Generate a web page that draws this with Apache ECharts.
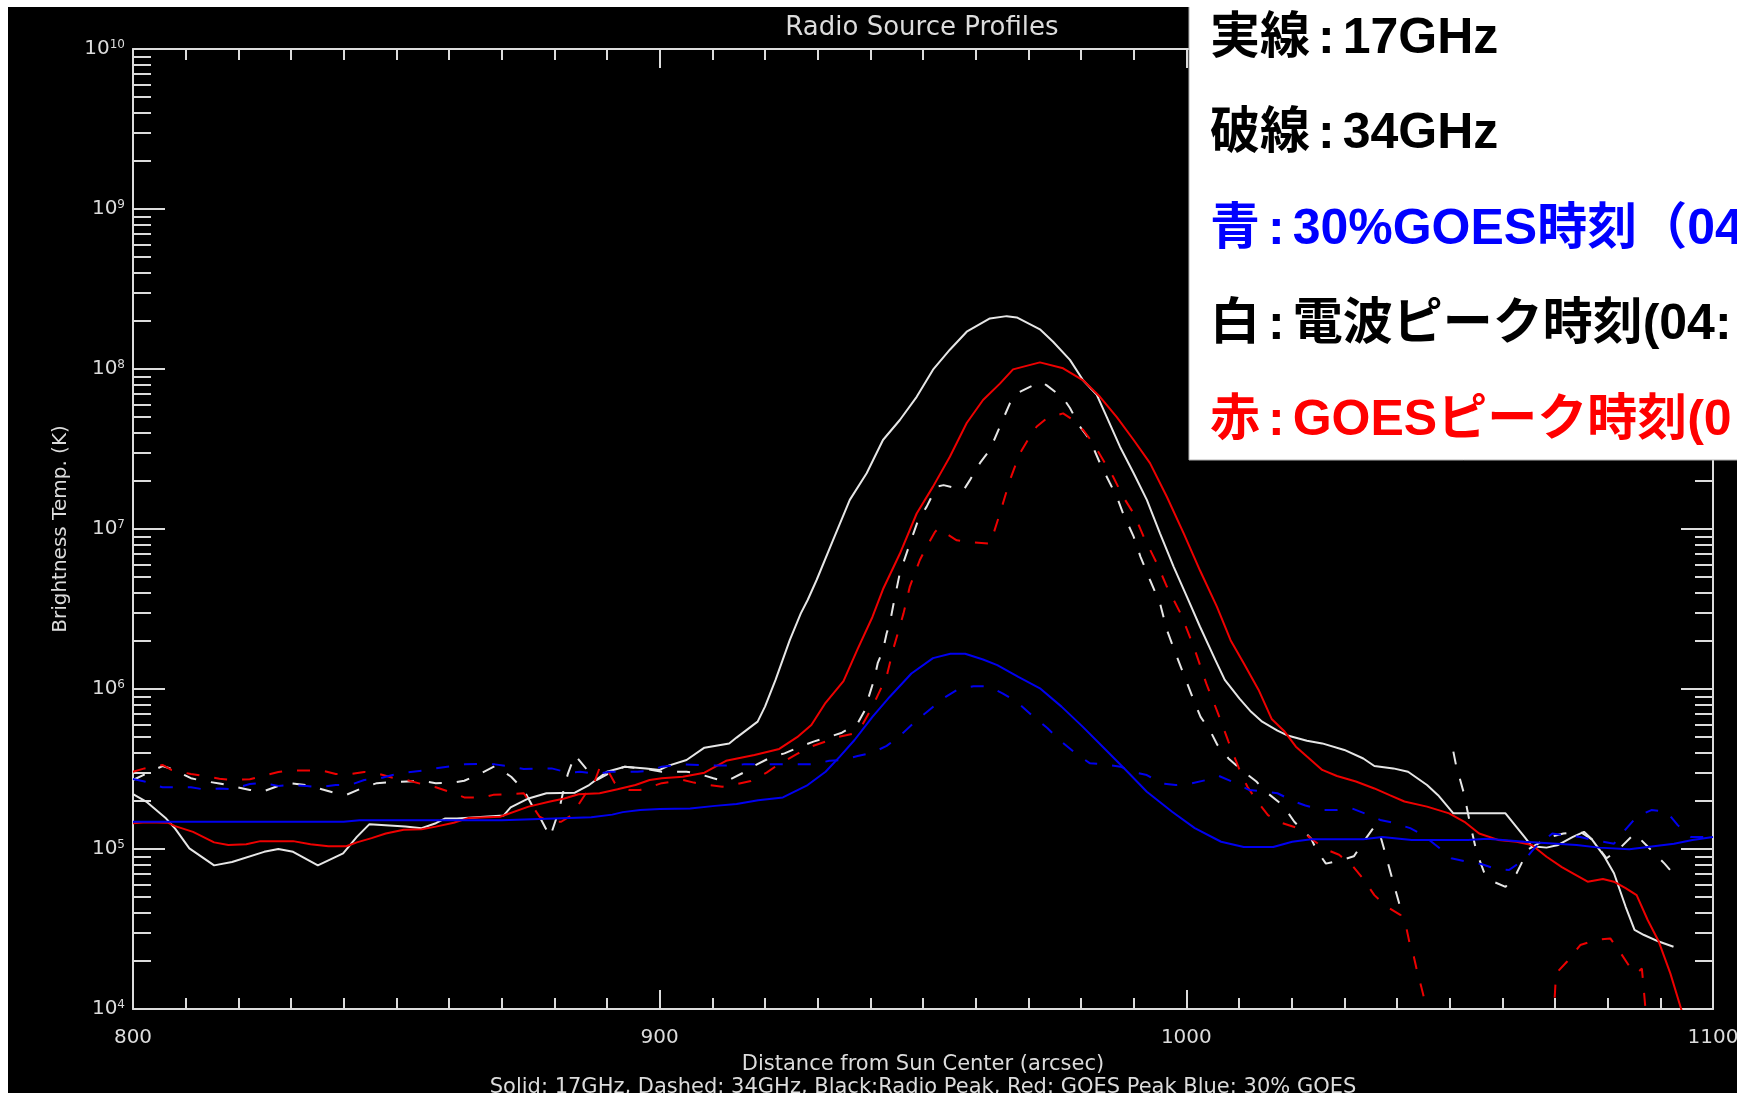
<!DOCTYPE html>
<html>
<head>
<meta charset="utf-8">
<script src="https://cdn.jsdelivr.net/npm/echarts@6/dist/echarts.min.js"></script>
<style>
  html, body { margin: 0; padding: 0; background: #fff; overflow: hidden; }
  #main { position: absolute; left: 8px; top: 7px; width: 1729px; height: 1086px; }
</style>
</head>
<body>
<div id="main"></div>
<script>
// distance from sun center (arcsec), brightness temperature (K)
// white = radio peak, red = GOES peak, blue = 30% GOES; 17GHz solid, 34GHz dashed
const radioPeak17 = [[800,2.2e5],[802.5,1.98e5],[806.3,1.55e5],[808,1.34e5],[810.7,1.01e5],[815.4,7.9e4],[818.8,8.3e4],[824.9,9.6e4],[827.6,1.0e5],[830.4,9.6e4],[835.1,7.9e4],[839.9,9.4e4],[842.5,1.19e5],[844.9,1.43e5],[851.7,1.38e5],[854.8,1.35e5],[857.5,1.45e5],[859.2,1.55e5],[861.5,1.55e5],[870.4,1.62e5],[871.7,1.82e5],[875.1,2.07e5],[878.5,2.23e5],[883.9,2.25e5],[886.6,2.51e5],[890,3.04e5],[893.4,3.27e5],[897.4,3.19e5],[900,3.12e5],[901.7,3.32e5],[905.1,3.6e5],[908.5,4.3e5],[913.2,4.57e5],[914.6,4.97e5],[918.6,6.25e5],[920,7.76e5],[922,1.14e6],[924.7,2.02e6],[926.8,2.97e6],[928.1,3.6e6],[929.8,4.8e6],[932.9,8.5e6],[936.1,1.52e7],[939.3,2.23e7],[942.4,3.6e7],[945.6,4.8e7],[948.8,6.7e7],[951.9,9.9e7],[955.1,1.32e8],[958.3,1.71e8],[962.7,2.07e8],[965.9,2.14e8],[967.8,2.1e8],[972.2,1.77e8],[974.7,1.48e8],[977.9,1.14e8],[980.4,8.5e7],[983,6.9e7],[984.9,5.0e7],[987.4,3.27e7],[990,2.23e7],[992.5,1.52e7],[995,9.4e6],[997.6,5.8e6],[1000.1,3.78e6],[1002.6,2.45e6],[1005.5,1.52e6],[1007.3,1.14e6],[1010.1,8.7e5],[1012.3,7.2e5],[1014.4,6.25e5],[1017.3,5.5e5],[1019.4,5.1e5],[1022.9,4.75e5],[1025.8,4.57e5],[1030,4.16e5],[1033.6,3.68e5],[1035.7,3.3e5],[1039.3,3.19e5],[1042.1,3.04e5],[1045.7,2.51e5],[1047.8,2.17e5],[1050.7,1.67e5],[1060.6,1.67e5],[1064.2,1.19e5],[1065.6,1.04e5],[1068.4,1.02e5],[1070.6,1.06e5],[1073.4,1.19e5],[1075.5,1.28e5],[1077,1.15e5],[1079.4,8.95e4],[1081.2,7.05e4],[1083.4,4.37e4],[1085.1,3.12e4],[1086.9,2.9e4],[1089.7,2.64e4],[1092.5,2.45e4]];

const radioPeak34 = [[800,2.7e5],[805.6,3.3e5],[807.6,3.15e5],[811,2.77e5],[813.4,2.66e5],[816.4,2.57e5],[822.2,2.34e5],[824.6,2.28e5],[827.6,2.48e5],[829.6,2.58e5],[833,2.51e5],[838.5,2.23e5],[840.5,2.18e5],[843.9,2.43e5],[846.3,2.58e5],[850.7,2.63e5],[855.1,2.66e5],[857.5,2.58e5],[860.9,2.6e5],[862.9,2.67e5],[866.3,3.0e5],[868.7,3.3e5],[871.8,2.83e5],[874.2,2.34e5],[875.9,1.84e5],[877.2,1.59e5],[879.2,1.19e5],[880.9,1.75e5],[881.9,2.45e5],[882.6,2.97e5],[883.9,3.87e5],[886,3.19e5],[888.1,2.7e5],[891.5,3.12e5],[893.4,3.27e5],[897.4,3.16e5],[900.4,3.04e5],[905.1,3.04e5],[907.1,2.97e5],[910.2,2.77e5],[912.6,2.64e5],[915.9,3.0e5],[918,3.32e5],[921.4,3.78e5],[923.7,3.96e5],[926.8,4.37e5],[929.2,4.69e5],[931.9,4.99e5],[934.6,5.33e5],[937.6,6.1e5],[939,7.4e5],[939.7,8.95e5],[940.7,1.14e6],[941.4,1.45e6],[942.4,1.75e6],[943.1,2.23e6],[943.7,2.57e6],[944.4,3.4e6],[945.6,5.3e6],[947.5,8.1e6],[949.1,1.14e7],[950.7,1.38e7],[952.6,1.84e7],[953.9,1.88e7],[957.7,1.75e7],[958.9,2.02e7],[960.8,2.58e7],[962.7,3.12e7],[964.6,4.37e7],[966.5,6.1e7],[967.8,7.05e7],[970.9,7.9e7],[972.5,8.3e7],[973.5,7.9e7],[976.6,6.6e7],[977.9,5.7e7],[979.8,4.37e7],[981.7,3.6e7],[983.6,2.58e7],[985.5,1.93e7],[986.8,1.59e7],[988,1.25e7],[990,8.95e6],[991.3,6.7e6],[993.1,4.8e6],[995,3.44e6],[996.3,2.34e6],[998.2,1.59e6],[1000.1,1.1e6],[1001.4,8.5e5],[1002.7,6.7e5],[1004.5,5.5e5],[1005.9,4.47e5],[1008,3.68e5],[1010.5,3.12e5],[1013.3,2.64e5],[1015.1,2.28e5],[1018.3,1.88e5],[1020.5,1.48e5],[1023.7,1.16e5],[1024.7,9.9e4],[1026.5,8.1e4],[1029.3,8.5e4],[1031.8,9.0e4],[1034.3,1.19e5],[1035.7,1.38e5],[1036.8,1.22e5],[1037.4,1.04e5],[1039,6.7e4],[1040.5,4.47e4],[1045,null],[1050.7,4.06e5],[1051.2,3.35e5],[1052.7,2.23e5],[1053.8,1.48e5],[1055.1,9.6e4],[1056.5,7.2e4],[1058.3,6.25e4],[1060.6,5.8e4],[1062.7,7.05e4],[1065,1.0e5],[1069.1,1.19e5],[1071.6,1.25e5],[1074.8,1.28e5],[1077,1.15e5],[1079.8,8.75e4],[1082.3,1.01e5],[1085.1,1.25e5],[1087.3,1.06e5],[1090.8,8.1e4],[1093,6.7e4]];

const goesPeak17 = [[800,1.45e5],[802.5,1.47e5],[806.6,1.46e5],[808,1.39e5],[811.4,1.28e5],[815.4,1.1e5],[818.1,1.06e5],[821.5,1.07e5],[824.2,1.12e5],[830.4,1.12e5],[833.7,1.07e5],[837.1,1.04e5],[840.5,1.04e5],[842.5,1.1e5],[845.3,1.17e5],[848,1.25e5],[851.4,1.32e5],[854.8,1.33e5],[857.5,1.38e5],[860.9,1.46e5],[863.6,1.56e5],[869.7,1.59e5],[875.1,1.84e5],[879.2,1.98e5],[881.9,2.07e5],[884.6,2.2e5],[888.6,2.23e5],[892,2.36e5],[895.4,2.51e5],[898.1,2.7e5],[900.4,2.77e5],[904.4,2.83e5],[908.5,3.0e5],[912.6,3.56e5],[918,3.87e5],[922.7,4.22e5],[926.1,5.0e5],[928.8,5.96e5],[931.5,8.2e5],[934.9,1.12e6],[937.6,1.78e6],[940.4,2.82e6],[942.4,4.2e6],[945.6,7.0e6],[948.8,1.25e7],[951.9,1.84e7],[955.1,2.83e7],[958.3,4.6e7],[961.4,6.4e7],[964.6,8.1e7],[967.1,9.95e7],[972.2,1.1e8],[976.6,1.01e8],[980.4,8.5e7],[983.6,6.7e7],[986.8,5.0e7],[990,3.6e7],[993.1,2.58e7],[996.3,1.59e7],[999.5,9.4e6],[1002.6,5.5e6],[1005.8,3.27e6],[1008.4,2.02e6],[1010.9,1.45e6],[1013.7,9.9e5],[1016.2,6.5e5],[1018.7,5.4e5],[1020.8,4.36e5],[1022.9,3.78e5],[1025.8,3.12e5],[1028.6,2.86e5],[1032.2,2.64e5],[1035.7,2.39e5],[1038.6,2.17e5],[1041.4,1.98e5],[1045.7,1.84e5],[1049.9,1.67e5],[1052.8,1.48e5],[1055.6,1.25e5],[1059.2,1.14e5],[1062.7,1.11e5],[1065.6,1.06e5],[1068.4,8.95e4],[1071.3,7.7e4],[1073.4,7.05e4],[1076.2,6.25e4],[1079.1,6.5e4],[1081.2,6.25e4],[1083.4,5.7e4],[1085.5,5.15e4],[1087.6,3.6e4],[1089.7,2.64e4],[1091.9,1.67e4],[1094,9.9e3],[1095,6.3e3]];

const goesPeak34 = [[800,3.04e5],[802.2,3.19e5],[805.6,3.35e5],[807.3,3.12e5],[811,2.94e5],[813.4,2.86e5],[816.4,2.75e5],[818.8,2.7e5],[822.2,2.73e5],[824.2,2.83e5],[827.6,3.03e5],[829.6,3.1e5],[835.8,3.1e5],[838.5,2.94e5],[841.2,2.94e5],[843.9,3.03e5],[846.3,2.97e5],[849.3,2.79e5],[852,2.7e5],[855.5,2.51e5],[857.5,2.43e5],[860.9,2.23e5],[862.9,2.1e5],[866.3,2.09e5],[868.4,2.18e5],[874.2,2.23e5],[877.2,1.59e5],[879.2,1.48e5],[881.3,1.48e5],[883.3,1.63e5],[886,2.23e5],[887.4,2.51e5],[888.8,3.35e5],[890.1,3.12e5],[891.5,2.58e5],[894.2,2.34e5],[896.3,2.34e5],[898.3,2.45e5],[900.4,2.58e5],[904.4,2.7e5],[906.5,2.6e5],[909.5,2.51e5],[911.9,2.45e5],[914.6,2.54e5],[917.3,2.66e5],[920.3,3.0e5],[922.4,3.35e5],[926.1,3.93e5],[928.8,4.37e5],[931.5,4.69e5],[933.6,4.99e5],[937,5.28e5],[938.3,5.82e5],[940.4,7.76e5],[943.1,1.2e6],[944.4,1.8e6],[946.3,2.97e6],[947.5,4.37e6],[949.4,6.4e6],[950.7,7.76e6],[952.3,9.6e6],[952.9,1.01e7],[953.9,9.6e6],[956.4,8.5e6],[958.3,8.3e6],[962.7,8.1e6],[963.4,9.4e6],[964.6,1.25e7],[966.5,2.02e7],[968.4,2.97e7],[970.3,3.78e7],[971.6,4.37e7],[973.5,4.92e7],[976.6,5.28e7],[978.5,4.8e7],[980.4,4.16e7],[982.3,3.44e7],[984.2,2.7e7],[986.1,2.12e7],[988,1.59e7],[990,1.25e7],[991.9,8.95e6],[994.4,6.1e6],[996.3,4.37e6],[998.9,2.97e6],[1001.4,1.84e6],[1003.8,1.08e6],[1005.9,7.2e5],[1008,4.69e5],[1010.1,3.12e5],[1011.6,2.45e5],[1013.3,2.02e5],[1015.5,1.63e5],[1018,1.46e5],[1021.2,1.35e5],[1023.7,1.16e5],[1026.5,9.95e4],[1029,9.2e4],[1031.5,7.9e4],[1033.6,6.5e4],[1035.7,5.15e4],[1037.9,4.4e4],[1040.7,3.86e4],[1041.8,3.19e4],[1042.4,2.57e4],[1043.2,2.12e4],[1043.9,1.67e4],[1044.6,1.38e4],[1045.7,9.9e3],[1047,5e3],[1069.3,5e3],[1070.2,1.67e4],[1072.3,1.98e4],[1074.8,2.51e4],[1077.7,2.7e4],[1080.5,2.76e4],[1082.3,2.28e4],[1084.4,1.79e4],[1085.5,1.67e4],[1086.5,1.79e4],[1088,5e3]];

const goes30pct17 = [[800,1.48e5],[840,1.48e5],[843,1.51e5],[870,1.51e5],[880,1.55e5],[887,1.58e5],[891,1.64e5],[893,1.7e5],[896.3,1.75e5],[900,1.78e5],[905.8,1.79e5],[910.5,1.86e5],[914.6,1.91e5],[918.7,2.02e5],[923.4,2.1e5],[928.1,2.51e5],[931.5,3.04e5],[934.2,3.78e5],[937,4.8e5],[940.4,6.7e5],[943.7,8.95e5],[947.8,1.25e6],[951.9,1.56e6],[955.2,1.66e6],[958,1.66e6],[961.4,1.53e6],[964.1,1.41e6],[968.1,1.19e6],[972.2,1.01e6],[976.3,7.76e5],[980.3,5.82e5],[984.4,4.26e5],[988.5,3.12e5],[992.5,2.28e5],[997.3,1.71e5],[1001.6,1.35e5],[1006.6,1.11e5],[1010.9,1.03e5],[1016.5,1.03e5],[1020.1,1.11e5],[1023.7,1.15e5],[1033.6,1.15e5],[1037.2,1.19e5],[1042.8,1.14e5],[1053.5,1.14e5],[1057.1,1.16e5],[1064.2,1.11e5],[1074.1,1.06e5],[1078.4,1.02e5],[1084.1,9.95e4],[1087.6,1.03e5],[1092.6,1.08e5],[1096.1,1.14e5],[1100,1.19e5]];

const goes30pct34 = [[800,2.74e5],[802.2,2.64e5],[805.6,2.43e5],[811,2.43e5],[813.4,2.36e5],[816.4,2.39e5],[818.8,2.36e5],[822.2,2.55e5],[824.6,2.59e5],[827.6,2.48e5],[830,2.51e5],[833,2.48e5],[835.4,2.43e5],[838.5,2.51e5],[841.2,2.51e5],[843.9,2.7e5],[846.6,2.75e5],[849.3,2.9e5],[852,3.01e5],[855.1,3.09e5],[857.5,3.19e5],[860.5,3.3e5],[862.9,3.38e5],[866,3.4e5],[868.7,3.38e5],[871.8,3.27e5],[874.2,3.16e5],[877.1,3.19e5],[879.5,3.19e5],[882.6,3.0e5],[884.9,3.04e5],[888,2.94e5],[890.4,3.04e5],[895.8,3.04e5],[898.1,3.09e5],[900.4,3.27e5],[904.4,3.38e5],[909.8,3.32e5],[912.6,3.32e5],[915.9,3.38e5],[929.2,3.38e5],[932.2,3.56e5],[934.6,3.6e5],[937.6,3.81e5],[940.4,4.0e5],[943.1,4.41e5],[945.8,5.16e5],[948.5,6.25e5],[951.2,7.4e5],[953.9,8.75e5],[956.6,9.95e5],[959.6,1.04e6],[962.4,1.04e6],[965.1,9.4e5],[967.8,8.3e5],[970.8,6.8e5],[973.6,5.7e5],[976.3,4.69e5],[979,3.96e5],[981.7,3.43e5],[984.4,3.38e5],[987.5,3.27e5],[989.8,3.04e5],[992.5,2.9e5],[995.2,2.57e5],[998,2.51e5],[1000.6,2.55e5],[1003.8,2.7e5],[1006.2,2.86e5],[1009.1,2.6e5],[1011.9,2.34e5],[1014.8,2.28e5],[1017.3,2.23e5],[1020.5,1.98e5],[1022.6,1.87e5],[1025.8,1.75e5],[1028.3,1.75e5],[1031.5,1.79e5],[1034,1.66e5],[1036.8,1.52e5],[1039.3,1.46e5],[1042.5,1.35e5],[1045,1.22e5],[1047.8,1.03e5],[1050.3,8.75e4],[1053.5,8.3e4],[1056,8.05e4],[1058.8,7.5e4],[1061.3,7.4e4],[1064.5,8.75e4],[1066.3,1.03e5],[1069.5,1.25e5],[1071.6,1.22e5],[1074.8,1.19e5],[1077,1.14e5],[1081.2,1.08e5],[1083,1.28e5],[1085.5,1.59e5],[1088.3,1.75e5],[1091.2,1.71e5],[1093.3,1.41e5],[1095.8,1.19e5],[1099.7,1.19e5]];

// note box at the top right
const noteHeads = ['実線', '破線', '青', '白', '赤'];
const noteBodies = ['17GHz', '34GHz', '30%GOES時刻（04', '電波ピーク時刻(04:', 'GOESピーク時刻(0'];
const noteColors = ['#000000', '#000000', '#0000ff', '#000000', '#ff0000'];

const axisColor = '#dcdcdc';
const plotFont = '"DejaVu Sans", sans-serif';
const noteFont = '"Liberation Sans", "Noto Sans CJK JP", sans-serif';

var myChart = echarts.init(document.getElementById('main'));

function makeSeries(name, data, color, dashed) {
    return {
        name: name,
        type: 'line',
        data: data,
        showSymbol: false,
        clip: true,
        connectNulls: false,
        lineStyle: { color: color, width: 2, type: dashed ? [13, 15] : 'solid' },
        emphasis: { disabled: true }
    };
}

// x axes (bottom with labels, top mirrored)
function makeXAxis(pos, showLabels) {
    return {
        type: 'value',
        position: pos,
        min: 800,
        max: 1100,
        interval: 100,
        axisLine: { lineStyle: { color: axisColor, width: 2 } },
        axisTick: { inside: true, length: 19, lineStyle: { color: axisColor, width: 2 } },
        minorTick: { show: true, splitNumber: 10, length: 11, lineStyle: { color: axisColor, width: 2 } },
        splitLine: { show: false },
        axisLabel: {
            show: showLabels, color: axisColor, fontSize: 20, fontFamily: plotFont, margin: 19,
            formatter: function (v) { return String(v); }
        }
    };
}

function makeYAxis(pos, showLabels) {
    return {
        type: 'log',
        logBase: 10,
        position: pos,
        min: 1e4,
        max: 1e10,
        splitNumber: 6,
        axisLine: { lineStyle: { color: axisColor, width: 2 } },
        axisTick: { inside: true, length: 32, lineStyle: { color: axisColor, width: 2 } },
        minorTick: { show: true, splitNumber: 9, length: 18, lineStyle: { color: axisColor, width: 2 } },
        splitLine: { show: false },
        axisLabel: {
            show: showLabels,
            margin: 8,
            color: axisColor,
            fontFamily: plotFont,
            fontSize: 20,
            formatter: function (v) {
                return '10{e|' + Math.round(Math.log10(v)) + '}';
            },
            rich: {
                e: { fontSize: 12, fontFamily: plotFont, color: axisColor, verticalAlign: 'top', lineHeight: 20 }
            }
        }
    };
}

let xBottom = makeXAxis('bottom', true);
xBottom.name = 'Distance from Sun Center (arcsec)\nSolid: 17GHz, Dashed: 34GHz, Black:Radio Peak, Red: GOES Peak Blue: 30% GOES';
xBottom.nameLocation = 'middle';
xBottom.nameGap = 44;
xBottom.nameTextStyle = { color: axisColor, fontSize: 21, fontFamily: plotFont, lineHeight: 23 };

let yLeft = makeYAxis('left', true);
yLeft.name = 'Brightness Temp. (K)';
yLeft.nameLocation = 'middle';
yLeft.nameGap = 62;
yLeft.nameTextStyle = { color: axisColor, fontSize: 20, fontFamily: plotFont };

let graphics = [
    {
        type: 'text', x: 914, y: 21,
        style: { text: 'Radio Source Profiles', fill: axisColor, font: '26px ' + plotFont, align: 'center', verticalAlign: 'middle' }
    },
    {
        type: 'rect', shape: { x: 1181, y: -10, width: 600, height: 463 },
        style: { fill: '#ffffff', stroke: '#b0b0b0', lineWidth: 1 }, z: 100
    }
];
noteHeads.forEach((head, i) => {
    graphics.push({
        type: 'text', x: 1202, y: 32 + i * 95.5, z: 101,
        style: {
            text: '{h|' + head + '}{c|:}{h|' + noteBodies[i] + '}',
            fill: noteColors[i],
            fontSize: 50, fontWeight: 'bold', fontFamily: noteFont,
            verticalAlign: 'middle',
            rich: {
                h: { fontSize: 50, fontWeight: 'bold', fontFamily: noteFont, fill: noteColors[i] },
                c: { fontSize: 50, fontWeight: 'bold', fontFamily: noteFont, fill: noteColors[i], padding: [0, 8, 0, 8] }
            }
        }
    });
});

let option = {
    backgroundColor: '#000000',
    animation: false,
    grid: { left: 125, top: 42, right: 24, bottom: 84, containLabel: false, outerBoundsMode: 'none' },
    xAxis: [xBottom, makeXAxis('top', false)],
    yAxis: [yLeft, makeYAxis('right', false)],
    series: [
        makeSeries('17GHz radio peak', radioPeak17, '#e6e6e6', false),
        makeSeries('34GHz radio peak', radioPeak34, '#e6e6e6', true),
        makeSeries('17GHz GOES peak', goesPeak17, '#ee0000', false),
        makeSeries('34GHz GOES peak', goesPeak34, '#ee0000', true),
        makeSeries('17GHz 30% GOES', goes30pct17, '#0000f0', false),
        makeSeries('34GHz 30% GOES', goes30pct34, '#0000f0', true)
    ],
    graphic: graphics
};

myChart.setOption(option);
</script>
</body>
</html>
